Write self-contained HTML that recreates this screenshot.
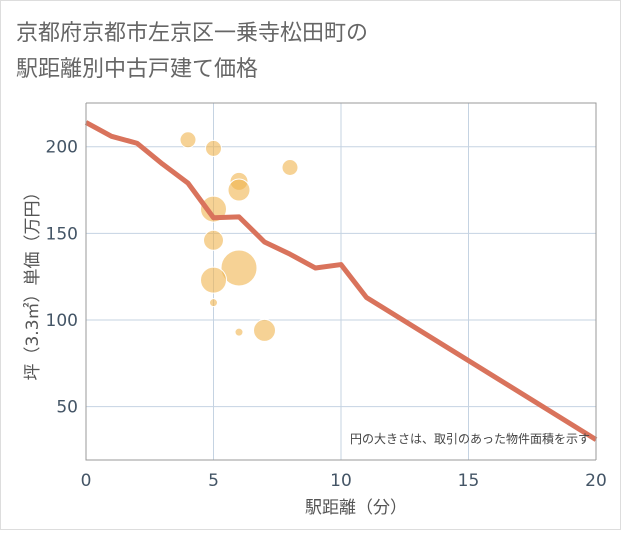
<!DOCTYPE html>
<html><head><meta charset="utf-8"><style>
body{margin:0;background:#fff;}
.wrap{position:relative;width:621px;height:530px;font-family:"Liberation Sans","Noto Sans CJK JP",sans-serif;}
</style></head><body>
<div class="wrap">
<svg id="c" width="621" height="530" xmlns="http://www.w3.org/2000/svg">
<rect x="0.5" y="0.5" width="620" height="529" fill="#fff" stroke="#ddd"/>
<text x="16" y="40" font-size="22" fill="#666" font-family="Liberation Sans,Noto Sans CJK JP,sans-serif">京都府京都市左京区一乗寺松田町の</text>
<text x="16" y="76" font-size="22" fill="#666" font-family="Liberation Sans,Noto Sans CJK JP,sans-serif">駅距離別中古戸建て価格</text>
<g id="grid"></g><g id="bubbles"></g><g id="line"></g><g id="axes"></g>
<text x="590" y="443" font-size="12" fill="#444" text-anchor="end" font-family="Liberation Sans,Noto Sans CJK JP,sans-serif">円の大きさは、取引のあった物件面積を示す</text>
<text x="356" y="513" font-size="17" fill="#555" text-anchor="middle" font-family="DejaVu Sans,Noto Sans CJK JP,sans-serif">駅距離（分）</text>
<text transform="translate(38,282) rotate(-90)" font-size="17" fill="#555" text-anchor="middle" font-family="DejaVu Sans,Noto Sans CJK JP,sans-serif">坪（3.3㎡）単価（万円）</text>
</svg>
</div>
<script>
const xTicks=[0,5,10,15,20];
const yTicks=[50,100,150,200];
const lineX=[0,1,2,3,4,5,6,7,8,9,10,11,20];
const lineY=[214,206,202,190,179,159,159.5,145,138,130,132,113,31];
const bubX=[4,5,8,6,6,5,5,6,5,5,6,7];
const bubY=[204,199,188,180,175,164,146,130,123,110,93,94];
const bubR=[8,8,8,9,11,13,10,18,13,4,4,11];
const NS="http://www.w3.org/2000/svg";
const L=86,R=596,T=103,B=460;
const sx=v=>L+(v-0)*(R-L)/20;
const sy=v=>320-(v-100)*1.733;
function mk(t,a,p){const e=document.createElementNS(NS,t);for(const k in a)e.setAttribute(k,a[k]);p.appendChild(e);return e;}
const g=document.getElementById('grid'),bg=document.getElementById('bubbles'),lg=document.getElementById('line'),ax=document.getElementById('axes');
xTicks.forEach(v=>{
 if(v>0&&v<20){const l=mk('line',{x1:sx(v),x2:sx(v),y1:T,y2:B,stroke:'#c5d3e2','stroke-width':1},g);
 
 }
 const t=mk('text',{x:sx(v),y:486,'font-size':17,fill:'#445566','text-anchor':'middle','font-family':'DejaVu Sans,sans-serif'},ax);t.textContent=v;
 
 
});
yTicks.forEach(v=>{
 const l=mk('line',{x1:L,x2:R,y1:sy(v),y2:sy(v),stroke:'#c5d3e2','stroke-width':1},g);
 
 
 const t=mk('text',{x:78,y:sy(v)+6,'font-size':17,fill:'#445566','text-anchor':'end','font-family':'DejaVu Sans,sans-serif'},ax);t.textContent=v;
 
 
});
const bx=mk('path',{d:`M${L},${T}H${R}V${B}`,fill:'none',stroke:'#999'},ax);


const la=mk('path',{d:`M${L},${T}V${B}H${R}`,fill:'none',stroke:'#999'},ax);


bubX.forEach((x,i)=>{
 const c=mk('circle',{cx:sx(x),cy:sy(bubY[i]),r:bubR[i],fill:'#f0b44f','fill-opacity':0.6,stroke:'#fff','stroke-width':1},bg);
 
 
});
const p=mk('polyline',{points:lineX.map((x,i)=>sx(x)+','+sy(lineY[i])).join(' '),fill:'none',stroke:'#d9735c','stroke-width':5,'stroke-linejoin':'round'},lg);


</script>
</body></html>
